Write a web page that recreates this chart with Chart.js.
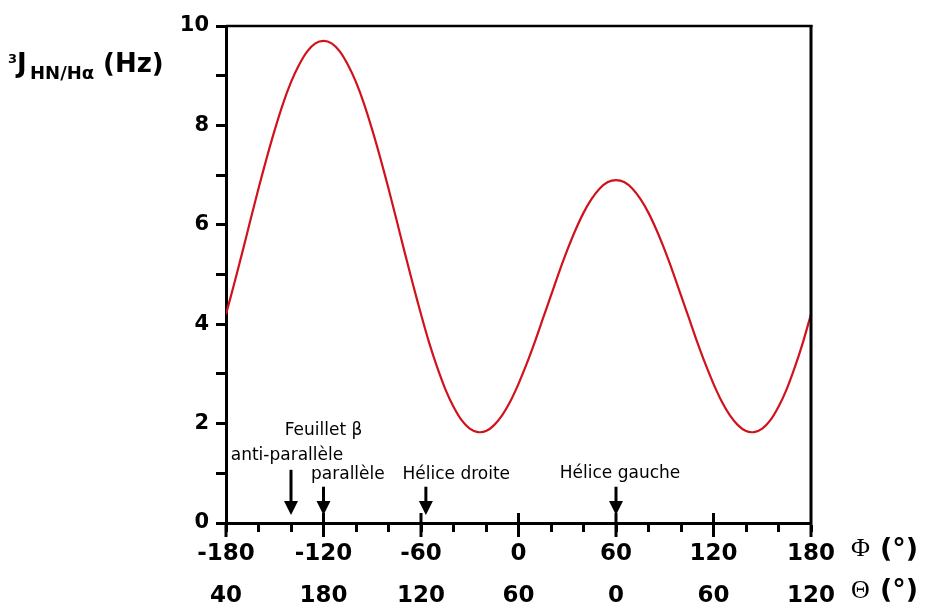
<!DOCTYPE html>
<html><head><meta charset="utf-8">
<script src="https://cdn.jsdelivr.net/npm/chart.js@4.4.1/dist/chart.umd.min.js"></script>
<style>html,body{margin:0;padding:0;background:#fff;}#wrap{width:934px;height:611px;position:relative}</style>
</head><body><div id="wrap"><canvas id="c" width="934" height="611"></canvas></div>
<script>
// Φ angles (degrees) and read 3J(HN/Hα) values (Hz)
const phiValues = [-180,-175,-170,-165,-160,-155,-150,-145,-140,-135,-130,-125,-120,-115,-110,-105,-100,-95,-90,-85,-80,-75,-70,-65,-60,-55,-50,-45,-40,-35,-30,-25,-20,-15,-10,-5,0,5,10,15,20,25,30,35,40,45,50,55,60,65,70,75,80,85,90,95,100,105,110,115,120,125,130,135,140,145,150,155,160,165,170,175,180];
const jValues = [4.20,4.81,5.44,6.09,6.73,7.34,7.91,8.43,8.87,9.22,9.49,9.65,9.70,9.65,9.49,9.22,8.87,8.43,7.91,7.34,6.73,6.09,5.44,4.81,4.20,3.63,3.13,2.69,2.34,2.07,1.90,1.83,1.85,1.97,2.17,2.45,2.80,3.20,3.64,4.11,4.58,5.05,5.49,5.89,6.24,6.52,6.73,6.86,6.90,6.86,6.73,6.52,6.24,5.89,5.49,5.05,4.58,4.11,3.64,3.20,2.80,2.45,2.17,1.97,1.85,1.83,1.90,2.07,2.34,2.69,3.13,3.63,4.20];
const phiTickValues = [-180,-120,-60,0,60,120,180];
const phiTickLabels = ['-180','-120','-60','0','60','120','180'];
const thetaTickLabels = ['40','180','120','60','0','60','120'];
const yTickLabels = {0:'0',2:'2',4:'4',6:'6',8:'8',10:'10'};
const arrowPhi = [-140,-120,-57,60];
const arrowTop = [1.07,0.73,0.73,0.73];
const textLabels = ['Feuillet β','anti-parallèle','parallèle','Hélice droite','Hélice gauche'];
const textPhi = [-120,-142.5,-105,-38.3,62.5];
const textJ = [1.77,1.27,0.885,0.885,0.905];

const points = phiValues.map((p,i)=>({x:p,y:jValues[i]}));

const decor = {
  id:'decor',
  afterDraw(chart){
    const ctx = chart.ctx, xs = chart.scales.x, ys = chart.scales.y, a = chart.chartArea;
    ctx.save();
    ctx.strokeStyle='#000'; ctx.fillStyle='#000';
    // top and right frame
    ctx.lineWidth=2.5; ctx.beginPath(); ctx.moveTo(a.left,a.top); ctx.lineTo(a.right+1.5,a.top); ctx.stroke();
    ctx.lineWidth=3; ctx.beginPath(); ctx.moveTo(a.right,a.top-1); ctx.lineTo(a.right,a.bottom); ctx.stroke();
    // longer major x ticks
    phiTickValues.forEach(v=>{
      const x = xs.getPixelForValue(v);
      ctx.beginPath(); ctx.moveTo(x, (v===-180||v===180)?a.bottom:a.bottom-10); ctx.lineTo(x,a.bottom+14); ctx.stroke();
    });
    // arrows
    const yb = ys.getPixelForValue(0.16);
    arrowPhi.forEach((p,i)=>{
      const x = xs.getPixelForValue(p), yt = ys.getPixelForValue(arrowTop[i]);
      ctx.lineWidth=3; ctx.beginPath(); ctx.moveTo(x,yt); ctx.lineTo(x,yb-10); ctx.stroke();
      ctx.beginPath(); ctx.moveTo(x-7,yb-14); ctx.lineTo(x+7,yb-14); ctx.lineTo(x,yb); ctx.closePath(); ctx.fill();
    });
    // text annotations
    ctx.font = '17px "DejaVu Sans"'; ctx.textAlign='center'; ctx.textBaseline='alphabetic';
    textLabels.forEach((t,i)=>{
      ctx.fillText(t, xs.getPixelForValue(textPhi[i]), ys.getPixelForValue(textJ[i]));
    });
    // y-axis title
    ctx.textAlign='left';
    ctx.font='bold 13px "DejaVu Sans"'; ctx.fillText('3', 8, 63);
    ctx.font='bold 26px "DejaVu Sans"'; ctx.fillText('J', 17, 72);
    ctx.font='bold 18px "DejaVu Sans"'; ctx.fillText('HN/Hα', 30, 79);
    ctx.font='bold 26px "DejaVu Sans"'; ctx.fillText('(Hz)', 103, 72);
    // x-axis titles
    const tx = a.right + 40;
    ctx.font='26px "Liberation Serif"'; ctx.fillText('Φ', tx, 556); ctx.fillText('Θ', tx, 598);
    ctx.font='bold 27px "DejaVu Sans"'; ctx.fillText('(°)', tx+29, 557); ctx.fillText('(°)', tx+29, 598);
    ctx.restore();
  }
};

new Chart(document.getElementById('c'), {
  type:'line',
  data:{datasets:[{data:points, borderColor:'#d0121c', borderWidth:2.2, pointRadius:0, tension:0.3, fill:false}]},
  options:{
    responsive:false, animation:false, devicePixelRatio:1,
    layout:{padding:{left:0,right:123,top:26,bottom:0}},
    plugins:{legend:{display:false}, tooltip:{enabled:false}},
    scales:{
      x:{type:'linear', min:-180, max:180,
        ticks:{stepSize:20, autoSkip:false, maxRotation:0, minRotation:0, padding:1, color:'#000',
          font:{family:'DejaVu Sans', weight:'bold', size:23, lineHeight:42/23},
          callback:(v)=>{const i=phiTickValues.indexOf(v); return i<0?'':[phiTickLabels[i],thetaTickLabels[i]];}},
        grid:{drawOnChartArea:false, drawTicks:true, tickLength:9, tickWidth:3, tickColor:'#000'},
        border:{display:true, color:'#000', width:3},
        afterFit:(s)=>{s.height=88;}
      },
      y:{min:0, max:10,
        ticks:{stepSize:1, autoSkip:false, padding:7, color:'#000',
          font:{family:'DejaVu Sans', weight:'bold', size:21},
          callback:(v)=> (yTickLabels[v]!==undefined? yTickLabels[v] : '')},
        grid:{drawOnChartArea:false, drawTicks:true, tickLength:10, tickWidth:3, tickColor:'#000'},
        border:{display:true, color:'#000', width:3},
        afterFit:(s)=>{s.width=226;}
      }
    }
  },
  plugins:[decor]
});
</script></body></html>
